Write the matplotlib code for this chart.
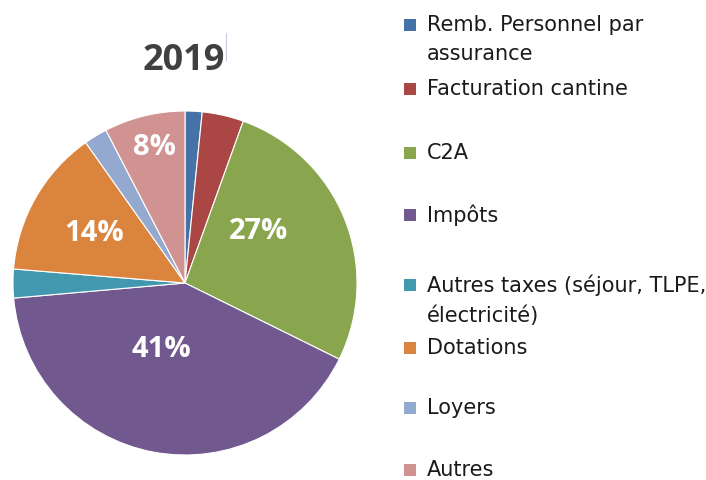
import matplotlib.pyplot as plt
import numpy as np
from matplotlib.patches import Rectangle
from matplotlib.lines import Line2D

# data (share of 2019 revenue, %)
categories = ['Remb. Personnel par\nassurance', 'Facturation cantine', 'C2A', 'Impôts',
              'Autres taxes (séjour, TLPE,\nélectricité)', 'Dotations', 'Loyers', 'Autres']
values = [1.6, 3.9, 26.8, 41.3, 2.7, 13.9, 2.2, 7.6]
shown = ['', '', '27%', '41%', '', '14%', '', '8%']
colors = ['#4572A7', '#AA4643', '#89A54E', '#71588F', '#4198AF', '#DB843D', '#93A9CF', '#D19392']

# label placement (radius fraction, angle tweak in degrees)
label_r = [0, 0, 0.52, 0.41, 0, 0.60, 0, 0.81]
label_dang = [0, 0, 13, -9, 0, 1, 0, -1]

W, H = 706, 480
fig = plt.figure(figsize=(W / 100, H / 100), dpi=100)

# pie centred at (185, 283) px, radius 172 px
cx, cy, R = 185, 283, 172
ax = fig.add_axes([(cx - R) / W, (H - cy - R) / H, 2 * R / W, 2 * R / H])
wedges, _ = ax.pie(values, colors=colors, startangle=90, counterclock=False,
                   wedgeprops=dict(edgecolor='white', linewidth=0.8))
ax.set_xlim(-1, 1)
ax.set_ylim(-1, 1)
ax.set_aspect('equal')
ax.axis('off')

for w, txt, r, da in zip(wedges, shown, label_r, label_dang):
    if not txt:
        continue
    ang = np.deg2rad((w.theta1 + w.theta2) / 2 + da)
    ax.text(r * np.cos(ang), r * np.sin(ang), txt, ha='center', va='center',
            color='white', fontsize=21, fontweight='bold', family='Open Sans')

# title
fig.text(184 / W, 1 - 61 / H, '2019', ha='center', va='center', fontsize=26,
         fontweight='bold', color='#404040', family='Open Sans')
fig.add_artist(Line2D([225.5 / W, 225.5 / W], [1 - 33 / H, 1 - 60 / H],
                      color='#C8CCE0', linewidth=0.8))

# legend, drawn by hand to keep Excel's spacing
leg_y = [25, 89, 153, 215, 285, 348, 408, 470]
for lab, col, y in zip(categories, colors, leg_y):
    fig.add_artist(Rectangle((404 / W, 1 - (y + 6) / H), 12 / W, 12 / H,
                             transform=fig.transFigure, facecolor=col, edgecolor='none'))
    fig.text(427 / W, 1 - (y - 10) / H, lab, ha='left', va='top', fontsize=15,
             color='#1a1a1a', family='DejaVu Sans', linespacing=1.55)

fig.savefig('out.png', dpi=100, facecolor='white')
